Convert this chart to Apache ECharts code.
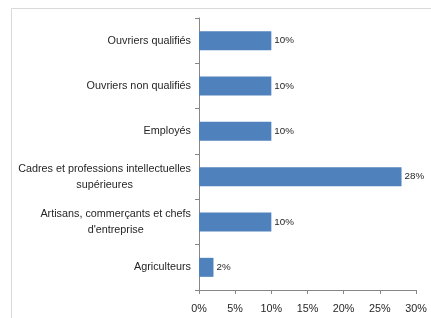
<!DOCTYPE html>
<html><head><meta charset="utf-8">
<script src="https://cdn.jsdelivr.net/npm/echarts@6/dist/echarts.min.js"></script>
<style>html,body{margin:0;padding:0;background:#fff}#c{width:431px;height:318px}</style>
</head><body><div id="c"></div>
<script>
const categories = ["Ouvriers qualifiés","Ouvriers non qualifiés","Employés","Cadres et professions intellectuelles\nsupérieures","Artisans, commerçants et chefs\nd'entreprise","Agriculteurs"];
const values = [10, 10, 10, 28, 10, 2];
const xTicks = [0, 5, 10, 15, 20, 25, 30];
const chart = echarts.init(document.getElementById('c'));
const font = 'Liberation Sans';
chart.setOption({
  animation: false,
  graphic: [{type:'rect', shape:{x:11.5,y:8.5,width:430,height:320}, style:{fill:'none',stroke:'#d9d9d9',lineWidth:1}, silent:true}],
  grid: {left:199, right:15, top:18, bottom:28, containLabel:false},
  xAxis: {type:'value', min:xTicks[0], max:xTicks[xTicks.length-1], interval:5,
    axisLine:{show:true,lineStyle:{color:'#868686'}},
    axisTick:{show:true,length:4,lineStyle:{color:'#868686'}},
    splitLine:{show:false},
    axisLabel:{formatter:v=>v+'%', color:'#262626', fontFamily:font, fontSize:10.8, margin:14}},
  yAxis: {type:'category', data:categories, inverse:true,
    axisLine:{show:true,lineStyle:{color:'#868686'}},
    axisTick:{show:true,length:4,lineStyle:{color:'#868686'}},
    axisLabel:{margin:8, color:'#262626', fontFamily:font, fontSize:10.8, lineHeight:16,
      formatter:v=>v.split('\n').map(s=>'{c|'+s+'}').join('\n'),
      rich:{c:{align:'center', fontFamily:font, fontSize:10.8, color:'#262626', lineHeight:16}}}},
  series: [{type:'bar', data:values, barWidth:19, itemStyle:{color:'#4f81bd'},
    label:{show:true, position:'right', distance:3, formatter:p=>p.value+'%', color:'#262626', fontFamily:font, fontSize:9.8}}]
});
</script></body></html>
